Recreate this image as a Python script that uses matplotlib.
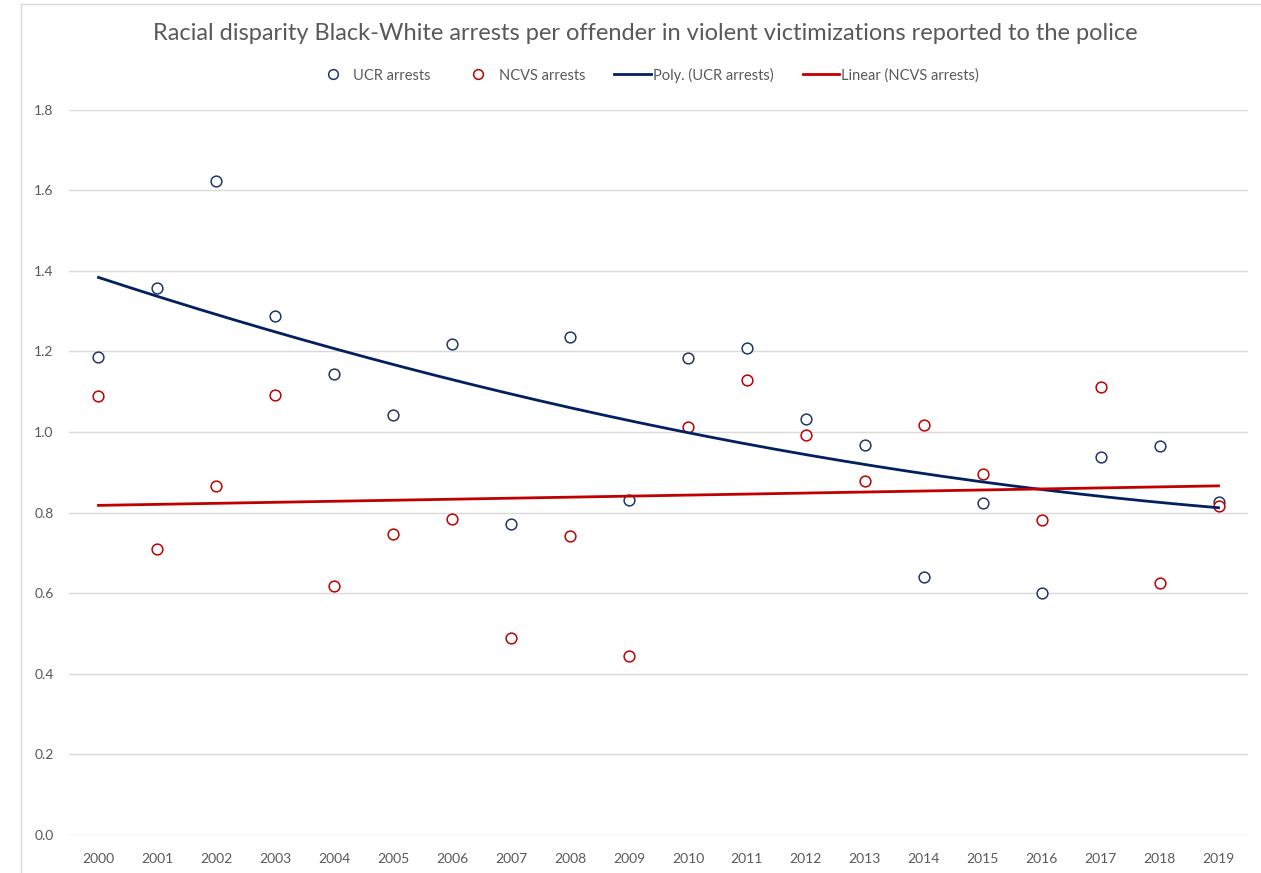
import numpy as np
import matplotlib
matplotlib.use("Agg")
import matplotlib.pyplot as plt
from matplotlib.lines import Line2D

years = [str(y) for y in range(2000, 2020)]
ucr_arrests = [1.187, 1.357, 1.622, 1.289, 1.144, 1.042, 1.218, 0.772, 1.237, 0.831,
               1.185, 1.209, 1.033, 0.968, 0.640, 0.825, 0.600, 0.939, 0.966, 0.826]
ncvs_arrests = [1.090, 0.711, 0.866, 1.092, 0.618, 0.746, 0.785, 0.489, 0.743, 0.444,
                1.013, 1.128, 0.993, 0.879, 1.018, 0.895, 0.781, 1.113, 0.625, 0.816]
y_ticks = [0.0, 0.2, 0.4, 0.6, 0.8, 1.0, 1.2, 1.4, 1.6, 1.8]

title = "Racial disparity Black-White arrests per offender in violent victimizations reported to the police"

plt.rcParams['font.family'] = ['Lato', 'DejaVu Sans']

BLUE = "#203864"
BLUE_LINE = "#002060"
RED = "#C00000"
TXT = "#595959"
GRID = "#D9D9D9"

fig = plt.figure(figsize=(12.61, 8.73), dpi=100)
ax = fig.add_axes([69/1261, 38/873, (1248-69)/1261, (835-109.7)/873])

x = np.arange(len(years))
ax.scatter(x, ucr_arrests, s=60, facecolors='white', edgecolors=BLUE, linewidths=1.1, zorder=3)
ax.scatter(x, ncvs_arrests, s=60, facecolors='white', edgecolors=RED, linewidths=1.1, zorder=3)

xf = np.linspace(0, len(years) - 1, 200)
p_ucr = np.polyfit(x, ucr_arrests, 2)
p_ncvs = np.polyfit(x, ncvs_arrests, 1)
ax.plot(xf, np.polyval(p_ucr, xf), color=BLUE_LINE, lw=2.0, zorder=4)
ax.plot(xf, np.polyval(p_ncvs, xf), color=RED, lw=2.0, zorder=4)

ax.set_xlim(-0.5, len(years) - 0.5)
ax.set_ylim(0, 1.8)
ax.set_xticks(x)
ax.set_xticklabels(years)
ax.set_yticks(y_ticks)
ax.set_yticklabels([f"{v:.1f}" for v in y_ticks])
ax.tick_params(axis='both', length=0, labelsize=10, colors=TXT)
ax.tick_params(axis='x', pad=13)
ax.tick_params(axis='y', pad=11)
for s in ax.spines.values():
    s.set_visible(False)
ax.grid(axis='y', color=GRID, lw=1.0)
ax.set_axisbelow(True)

fig.text(645/1261, 1 - 33/873, title, ha='center', va='center', fontsize=17, color=TXT)

handles = [
    Line2D([], [], marker='o', ls='none', markerfacecolor='white', markeredgecolor=BLUE, markersize=7, markeredgewidth=1.1),
    Line2D([], [], marker='o', ls='none', markerfacecolor='white', markeredgecolor=RED, markersize=7, markeredgewidth=1.1),
    Line2D([], [], color=BLUE_LINE, lw=2.0),
    Line2D([], [], color=RED, lw=2.0),
]
labels = ["UCR arrests", "NCVS arrests", "Poly. (UCR arrests)", "Linear (NCVS arrests)"]
fig.legend(handles, labels, loc='center', bbox_to_anchor=(647/1261, 1 - 75/873), ncol=4,
           frameon=False, fontsize=10.5, labelcolor=TXT, handlelength=2.5, columnspacing=2.0,
           handletextpad=0.15)

# chart border
fig.add_artist(plt.Line2D([21/1261, 21/1261], [0, 1 - 4/873], transform=fig.transFigure, color=GRID, lw=1))
fig.add_artist(plt.Line2D([21/1261, 1], [1 - 4/873, 1 - 4/873], transform=fig.transFigure, color=GRID, lw=1))

fig.savefig("out.png", dpi=100)
